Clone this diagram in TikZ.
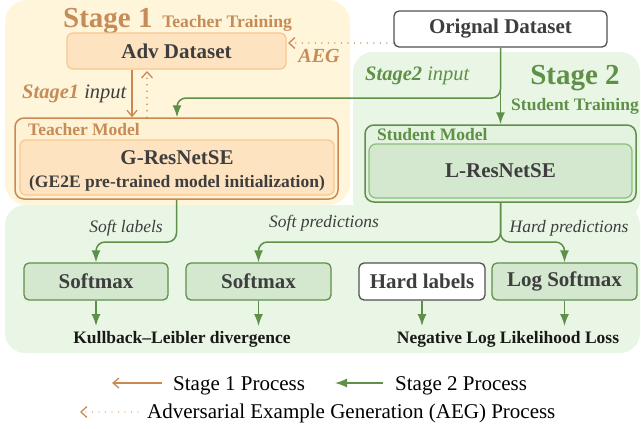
\documentclass[tikz,border=0pt]{standalone}
\usepackage{fontspec}
\setmainfont{Liberation Serif}
\usetikzlibrary{arrows.meta,calc}
\definecolor{brn}{HTML}{C68C58}
\definecolor{brnline}{HTML}{C88A52}
\definecolor{ylbg}{HTML}{FFF5DB}
\definecolor{orfill}{HTML}{FEE3C1}
\definecolor{orline}{HTML}{F7C68F}
\definecolor{tfill}{HTML}{FFF2D4}
\definecolor{grn}{HTML}{5F9048}
\definecolor{grnbg}{HTML}{E9F6E5}
\definecolor{gfill}{HTML}{D4E7CF}
\definecolor{gline}{HTML}{8BBE7B}
\definecolor{sfill}{HTML}{E4F3DF}
\definecolor{txt}{HTML}{3E3E3E}
\tikzset{
  big/.style={font=\fontsize{21}{25}\selectfont\bfseries, text=txt},
  mid/.style={font=\fontsize{17.5}{21}\selectfont\bfseries},
  lab/.style={font=\fontsize{17.5}{21}\selectfont\itshape, text=txt, inner sep=0pt, anchor=base},
  inlab/.style={font=\fontsize{20.5}{24}\selectfont\itshape, text=txt, inner sep=0pt, anchor=base west},
  obox/.style={draw=orline, fill=orfill, line width=1.2pt, rounded corners=6pt, big},
  gbox/.style={draw=grn, fill=gfill, line width=1.3pt, rounded corners=5pt, big},
  s1arrow/.style={draw=brnline, line width=1.5pt, -{Straight Barb[length=6pt,width=10pt,line width=1.3pt]}},
  aegarrow/.style={draw=brnline, line width=1.6pt, line cap=round, dash pattern=on 0pt off 6.5pt, -{Straight Barb[length=6pt,width=11pt,line width=1.3pt]}},
  s2arrow/.style={draw=grn, line width=1.5pt, rounded corners=9pt, -{Latex[length=12pt,width=9pt]}},
}
\begin{document}
\begin{tikzpicture}[x=1pt,y=-1pt]
\useasboundingbox (0,0) rectangle (641,429);
% backgrounds
\fill[ylbg, rounded corners=22pt] (5,0) rectangle (350,205);
\fill[grnbg, rounded corners=20pt] (353,52) rectangle (640,220);
\fill[grnbg, rounded corners=20pt] (5,205) rectangle (640,353);

% titles
\node[anchor=base west, inner sep=0pt, text=brn, font=\bfseries] (st1) at (63,27)
  {\fontsize{29}{30}\selectfont Stage 1\,\,\fontsize{17.6}{20}\selectfont Teacher Training};
\node[anchor=base, inner sep=0pt, text=grn, font=\bfseries\fontsize{29}{30}\selectfont] (st2) at (575,84) {Stage 2};
\node[anchor=base, inner sep=0pt, text=grn, font=\bfseries\fontsize{17.5}{20}\selectfont] (st2b) at (575,110) {Student Training};

% boxes
\node[obox, minimum width=219pt, minimum height=36pt] (adv) at (176.5,51) {Adv Dataset};
\node[draw=txt!90, fill=white, line width=1.3pt, rounded corners=5pt, big, minimum width=213pt, minimum height=36pt] (orig) at (500.5,29) {Orignal Dataset};

\node[draw=brnline, fill=tfill, line width=1.5pt, rounded corners=9pt, minimum width=323pt, minimum height=81pt] (tout) at (176.5,158.5) {};
\node[obox, minimum width=314pt, minimum height=55pt] (tin) at (177,167.5) {};
\node[mid, text=brn, anchor=west, inner sep=0pt] (tlab) at (28,130) {Teacher Model};
\node[big, inner sep=0pt] (gres) at (177,158) {G-ResNetSE};
\node[mid, text=txt, inner sep=0pt] (gini) at (177,183) {(GE2E pre-trained model initialization)};

\node[draw=grn, fill=sfill, line width=1.5pt, rounded corners=9pt, minimum width=271pt, minimum height=77pt] (sout) at (500.5,163.5) {};
\node[draw=gline, fill=gfill, line width=1.2pt, rounded corners=7pt, minimum width=263pt, minimum height=54pt, big] (sin) at (500.5,171) {L-ResNetSE};
\node[mid, text=grn, anchor=west, inner sep=0pt] (slab) at (377,135) {Student Model};

\node[gbox, minimum width=144pt, minimum height=37pt] (sm1) at (96,281.5) {Softmax};
\node[gbox, minimum width=145pt, minimum height=37pt] (sm2) at (258.5,281.5) {Softmax};
\node[draw=txt!90, fill=white, line width=1.3pt, rounded corners=5pt, big, minimum width=126pt, minimum height=37pt] (hl) at (422,281.5) {Hard labels};
\node[gbox, minimum width=145pt, minimum height=37pt] (ls) at (564.5,281.5) {Log Softmax};

\node[mid, text=black!90, anchor=base, inner sep=0pt] (kl) at (182,343) {Kullback–Leibler divergence};
\node[mid, text=black!90, anchor=base, inner sep=0pt] (nll) at (508,343) {Negative Log Likelihood Loss};
\coordinate (klt) at (0,326);

% labels
\node[inlab] (sl1) at (22,98) {\textcolor{brn}{\bfseries Stage1} input};
\node[inlab, text=grn] (sl2) at (365,80) {\bfseries Stage2\mdseries{} input};
\node[lab, text=brn, font=\fontsize{20}{24}\selectfont\bfseries\itshape] (aeg) at (319,62) {AEG};
\node[lab] (softl) at (126,232) {Soft labels};
\node[lab] (softp) at (324,227) {Soft predictions};
\node[lab] (hardp) at (569,232) {Hard predictions};

% arrows stage 1
\draw[s1arrow] (132,0 |- adv.south) -- (132,0 |- tout.north);
\draw[aegarrow] (147,0 |- tout.north) -- (147,71);
\draw[aegarrow] (orig.west |- 0,43) -- (288,43);

% arrows stage 2
\draw[s2arrow] (orig.south) -- (sout.north);
\draw[s2arrow] (orig.south) -- (500.5,98) -- (177,98) -- (177,0 |- tout.north);
\draw[s2arrow] (tout.south) -- (176.5,242) -- (96,242) -- (sm1.north);
\draw[s2arrow] (sout.south) -- (500.5,242) -- (258.5,242) -- (sm2.north);
\draw[s2arrow] (sout.south) -- (500.5,242) -- (564.5,242) -- (ls.north);
\draw[s2arrow] (sm1.south) -- (sm1.south |- klt);
\draw[s2arrow] (sm2.south) -- (sm2.south |- klt);
\draw[s2arrow] (hl.south) -- (hl.south |- klt);
\draw[s2arrow] (ls.south) -- (ls.south |- klt);

% legend
\coordinate (l1a) at (162,383); \coordinate (l1b) at (112,383);
\draw[s1arrow, line width=1.3pt] (l1a) -- (l1b);
\node[anchor=base west, inner sep=0pt, font=\fontsize{21}{25}\selectfont] (lg1) at (173,390) {Stage 1 Process};
\coordinate (l2a) at (383,383); \coordinate (l2b) at (335,383);
\draw[s2arrow] (l2a) -- (l2b);
\node[anchor=base west, inner sep=0pt, font=\fontsize{21}{25}\selectfont] (lg2) at (395,390) {Stage 2 Process};
\coordinate (l3a) at (138,412); \coordinate (l3b) at (80,412);
\draw[aegarrow, line width=1.3pt] (l3a) -- (l3b);
\node[anchor=base west, inner sep=0pt, font=\fontsize{21}{25}\selectfont] (lg3) at (147,418) {Adversarial Example Generation (AEG) Process};
\end{tikzpicture}
\end{document}
